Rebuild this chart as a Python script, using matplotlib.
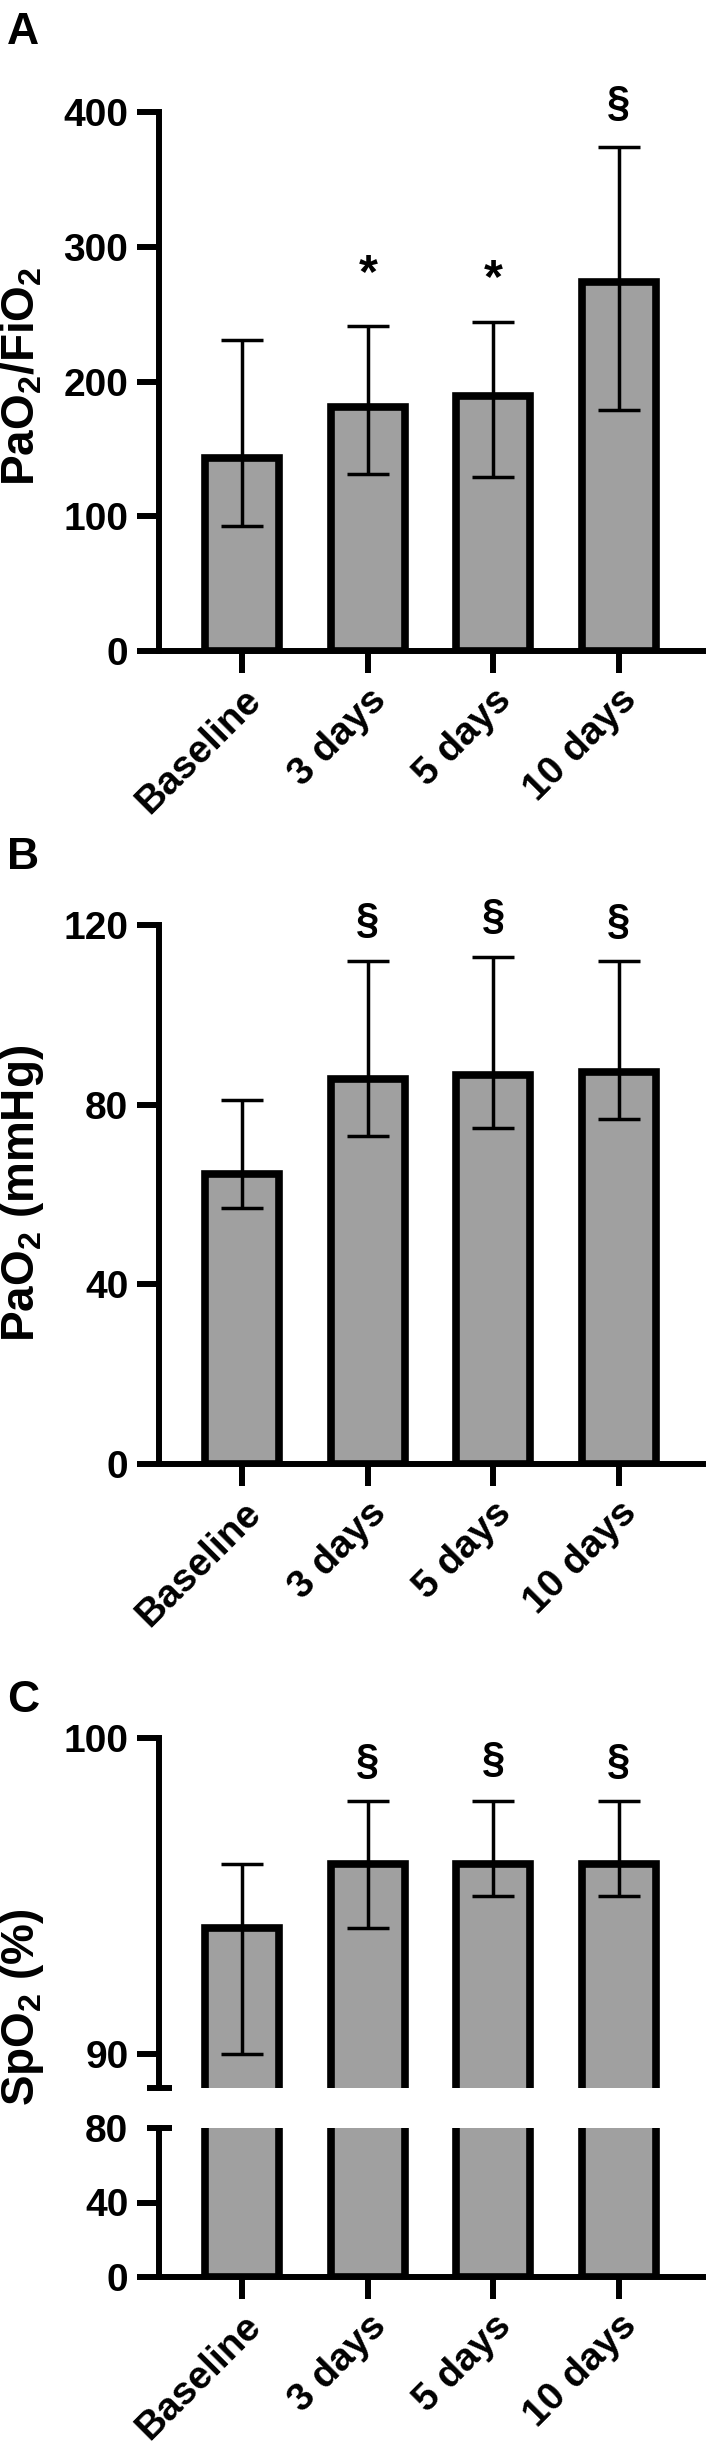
import numpy as np
import matplotlib.pyplot as plt

plt.rcParams['font.family'] = ['Liberation Sans', 'DejaVu Sans']
plt.rcParams['font.weight'] = 'bold'
plt.rcParams['mathtext.fontset'] = 'custom'
plt.rcParams['mathtext.rm'] = 'Liberation Sans:bold'
plt.rcParams['mathtext.it'] = 'Liberation Sans:bold'
plt.rcParams['mathtext.bf'] = 'Liberation Sans:bold'

# datos
grupos = ['Baseline', '3 days', '5 days', '10 days']

pf_media = [143, 181, 189, 274]
pf_inf = [93, 131, 129, 179]
pf_sup = [231, 241, 244, 374]
pf_marca = ['', '*', '*', '§']

pao2_media = [64.6, 85.8, 86.6, 87.3]
pao2_inf = [57.0, 73.1, 74.9, 76.7]
pao2_sup = [81.1, 112.0, 112.8, 112.0]
pao2_marca = ['', '§', '§', '§']

spo2_media = [94, 96, 96, 96]
spo2_inf = [90, 94, 95, 95]
spo2_sup = [96, 98, 98, 98]
spo2_marca = ['', '§', '§', '§']

W, H = 711, 2453
gris = '#a0a0a0'
fs_tick = 28
fs_lab = 33
x = np.arange(len(grupos))
xlim = (-0.665, 3.67)


def caja(top, bottom):
    # top/bottom en pixeles de la figura
    return [159 / W, 1 - bottom / H, 544 / W, (bottom - top) / H]


def estilo(ax, abajo=True):
    ax.spines['top'].set_visible(False)
    ax.spines['right'].set_visible(False)
    ax.spines['left'].set_linewidth(4.3)
    ax.spines['bottom'].set_linewidth(4.3)
    ax.tick_params(axis='both', length=16, width=4.3, labelsize=fs_tick, pad=6)
    ax.set_xlim(*xlim)
    ax.set_xticks(x)
    if abajo:
        ax.set_xticklabels(grupos, rotation=45, ha='right', rotation_mode='anchor',
                           fontsize=fs_tick, fontweight='bold')
    else:
        ax.spines['bottom'].set_visible(False)
        ax.tick_params(axis='x', bottom=False, labelbottom=False)
    for t in ax.get_yticklabels():
        t.set_fontweight('bold')


def barras(ax, media, inf, sup, marca=None, ymarca=None, errores=True):
    ax.bar(x, media, width=0.59, color=gris, edgecolor='black', linewidth=5.5, zorder=2)
    if errores:
        err = [np.array(media) - np.array(inf), np.array(sup) - np.array(media)]
        ax.errorbar(x, media, yerr=err, fmt='none', ecolor='black', elinewidth=2.5,
                    capsize=15, capthick=2.5, zorder=3)
    if marca:
        for xi, m, ym in zip(x, marca, ymarca):
            if m:
                ax.text(xi, ym, m, ha='center', va='center',
                        fontsize=35 if m == '*' else 30,
                        fontweight='bold', clip_on=False)


fig = plt.figure(figsize=(W / 100, H / 100), dpi=100)

# Panel A
axA = fig.add_axes(caja(112, 651))
barras(axA, pf_media, pf_inf, pf_sup, pf_marca, [0, 279.5, 276, 406])
axA.set_ylim(0, 400)
axA.set_yticks([0, 100, 200, 300, 400])
estilo(axA)

# Panel B
axB = fig.add_axes(caja(925, 1464))
barras(axB, pao2_media, pao2_inf, pao2_sup, pao2_marca, [0, 120.8, 121.7, 120.6])
axB.set_ylim(0, 120)
axB.set_yticks([0, 40, 80, 120])
estilo(axB)

# Panel C (eje cortado)
axC1 = fig.add_axes(caja(1738, 2088))
barras(axC1, spo2_media, spo2_inf, spo2_sup, spo2_marca, [0, 99.24, 99.3, 99.24])
axC1.set_ylim(88.92, 100)
axC1.set_yticks([90, 100])
estilo(axC1, abajo=False)

axC2 = fig.add_axes(caja(2128, 2277))
barras(axC2, spo2_media, spo2_inf, spo2_sup, errores=False)
axC2.set_ylim(0, 80)
axC2.set_yticks([0, 40, 80])
estilo(axC2)
axC2.yaxis.get_major_ticks()[2].tick1line.set_visible(False)

# marcas del corte
d = 12.5 / 544
axC1.plot([-d, d], [0, 0], transform=axC1.transAxes, color='black', lw=4.3,
          clip_on=False, solid_capstyle='butt')
axC2.plot([-d, d], [1, 1], transform=axC2.transAxes, color='black', lw=4.3,
          clip_on=False, solid_capstyle='butt')

# Etiquetas de los ejes Y
fig.text(22 / W, 1 - 376 / H, 'PaO$_2$/FiO$_2$', rotation=90, ha='center', va='center',
         fontsize=fs_lab, fontweight='bold')
fig.text(22 / W, 1 - 1193 / H, 'PaO$_2$ (mmHg)', rotation=90, ha='center', va='center',
         fontsize=fs_lab, fontweight='bold')
fig.text(22 / W, 1 - 2007 / H, 'SpO$_2$ (%)', rotation=90, ha='center', va='center',
         fontsize=fs_lab, fontweight='bold')

# Letras de los paneles
for letra, yb in [('A', 44), ('B', 869), ('C', 1712)]:
    fig.text(7 / W, 1 - yb / H, letra, ha='left', va='baseline', fontsize=32,
             fontweight='bold')

fig.savefig('out.png', dpi=100)
